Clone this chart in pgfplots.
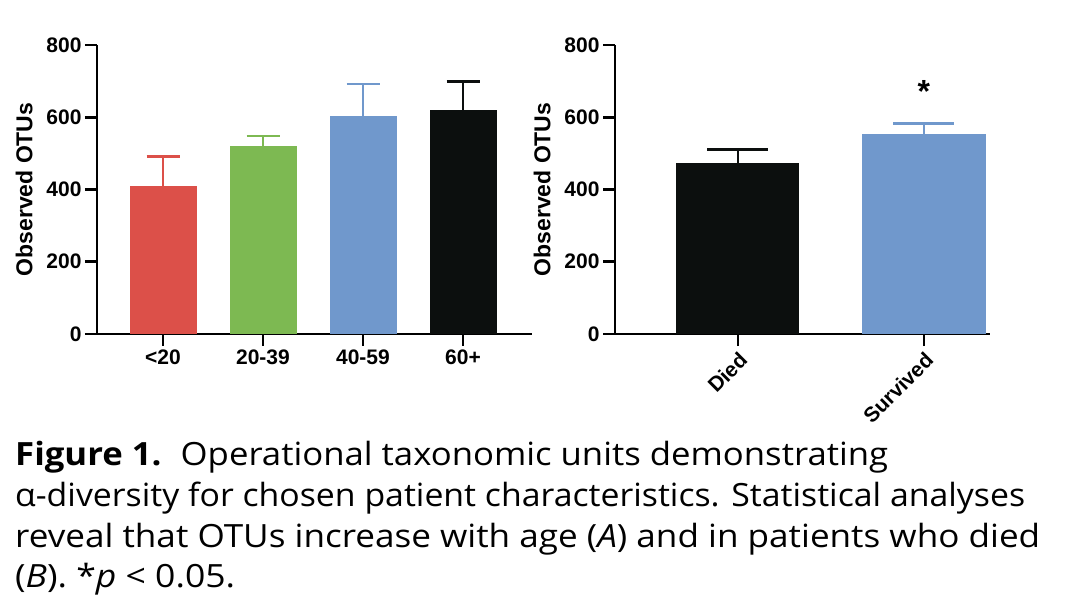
\documentclass[border=0pt]{standalone}
\usepackage{fontspec}
\setmainfont{Liberation Sans}
\newfontfamily\capfont{Open Sans}
\usepackage{graphicx}
\usepackage{pgfplots}
\pgfplotsset{compat=1.18}
\definecolor{cred}{HTML}{DC5049}
\definecolor{cgreen}{HTML}{7DB952}
\definecolor{cblue}{HTML}{7098CC}
\definecolor{cblack}{HTML}{0C0F0E}
\newsavebox\capbox
\newlength\caplen
\newcommand\capline[2]{\sbox\capbox{\capfont\fontsize{32}{40}\selectfont #2}\setlength\caplen{\wd\capbox}\pgfmathsetmacro\capsx{#1/\caplen}\scalebox{\capsx}[1]{\usebox\capbox}}
\pgfplotsset{
 otus/.style={
  scale only axis, height=289pt, ymin=0, ymax=800, ytick={0,200,400,600,800},
  axis x line=bottom, axis y line=left,
  axis line style={line width=2.8pt, -},
  tick style={line width=2.8pt, black},
  major tick length=12pt, tick align=outside,
  /pgf/number format/assume math mode=true,
  tick label style={font=\fontsize{21}{21}\selectfont\bfseries},
  ylabel={Observed OTUs}, ylabel shift=7pt,
  ylabel style={font=\fontsize{23}{23}\selectfont\bfseries},
  clip=false,
 },
 bbar/.style n args={3}{ybar, bar shift=0pt, bar width=#2, fill=#1, draw=none,
  error bars/y dir=plus, error bars/y explicit,
  error bars/error bar style={draw=#1, line width=2.8pt},
  error bars/error mark options={draw=#1, line width=2.8pt, mark size=#3, rotate=90}},
}
\begin{document}
\begin{tikzpicture}
\useasboundingbox (0,0) rectangle (1080pt,614pt);
\begin{axis}[otus, width=435pt, at={(97pt,280pt)}, anchor=south west,
  xmin=-0.66, xmax=3.69, xtick={0,1,2,3}, xticklabels={<20,20-39,40-59,60+}]
\addplot[bbar={cred}{67pt}{16.5pt}] coordinates {(0,410) +- (0,81)};
\addplot[bbar={cgreen}{67pt}{16.5pt}] coordinates {(1,520) +- (0,28)};
\addplot[bbar={cblue}{67pt}{16.5pt}] coordinates {(2,604) +- (0,88)};
\addplot[bbar={cblack}{67pt}{16.5pt}] coordinates {(3,621) +- (0,77)};
\end{axis}
\begin{axis}[otus, width=375pt, at={(615pt,280pt)}, anchor=south west,
  xmin=-0.661, xmax=1.355, xtick={0,1}, xticklabels={Died,Survived},
  xticklabel style={rotate=45, anchor=north east}]
\addplot[bbar={cblack}{123pt}{30.5pt}] coordinates {(0,472) +- (0,39)};
\addplot[bbar={cblue}{124pt}{30.5pt}] coordinates {(1,554) +- (0,28)};
\node[font=\fontsize{32}{32}\selectfont\bfseries] at (axis cs:1,670) {*};
\end{axis}
\node[anchor=base west, inner sep=0pt] at (15pt,149pt) {\capline{873}{\textbf{Figure 1.}\hspace{0.55em}Operational taxonomic units demonstrating}};
\node[anchor=base west, inner sep=0pt] at (15pt,108pt) {\capline{1010}{α-diversity for chosen patient characteristics. Statistical analyses}};
\node[anchor=base west, inner sep=0pt] at (15pt,67pt) {\capline{1025}{reveal that OTUs increase with age (\textit{A}) and in patients who died}};
\node[anchor=base west, inner sep=0pt] at (15pt,27pt) {\capline{220}{(\textit{B}). *\textit{p} < 0.05.}};
\end{tikzpicture}
\end{document}
